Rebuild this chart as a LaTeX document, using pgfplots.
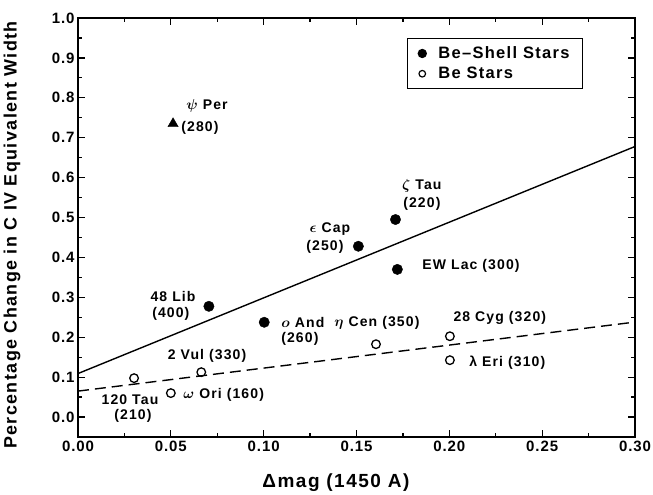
\documentclass[border=0pt]{standalone}
\usepackage{fontspec}
\setmainfont{Liberation Sans}
\newfontfamily\lsfont[LetterSpace=6]{Liberation Sans}
\newfontfamily\lsfontw[LetterSpace=8]{Liberation Sans}
\usepackage{pgfplots}
\pgfplotsset{compat=1.18}
\newcommand\lab{\lsfontw\bfseries\fontsize{14}{16}\selectfont}
\begin{document}
\begin{tikzpicture}
\begin{axis}[
  scale only axis, width=557pt, height=419pt,
  xmin=0, xmax=0.30, ymin=-0.05, ymax=1.0,
  xtick={0,0.05,0.10,0.15,0.20,0.25,0.30},
  minor xtick={0.025,0.075,0.125,0.175,0.225,0.275},
  ytick={0,0.1,0.2,0.3,0.4,0.5,0.6,0.7,0.8,0.9,1.0},
  minor ytick={0.05,0.15,0.25,0.35,0.45,0.55,0.65,0.75,0.85,0.95},
  /pgf/number format/assume math mode=true,
  xticklabel style={/pgf/number format/.cd, fixed, fixed zerofill, precision=2},
  yticklabel style={/pgf/number format/.cd, fixed, fixed zerofill, precision=1},
  scaled x ticks=false, scaled y ticks=false,
  tick label style={font=\lsfont\bfseries\fontsize{15}{17}\selectfont},
  axis line style={line width=1.6pt},
  tick style={line width=1.2pt, black},
  major tick length=7pt, minor tick length=4pt,
  xlabel={\lsfontw\bfseries\fontsize{19}{21}\selectfont Δmag (1450 A)},
  xlabel style={at={(axis description cs:0.463,-0.11)}, anchor=center},
  ylabel={\lsfontw\bfseries\fontsize{17.9}{19}\selectfont Percentage Change in C IV Equivalent Width},
  ylabel style={at={(axis description cs:-0.1185,0.482)}, anchor=center},
  legend style={at={(axis description cs:0.59,0.952)}, anchor=north west,
    draw=black, line width=1.3pt, font=\lsfontw\bfseries\fontsize{16.5}{18}\selectfont,
    inner xsep=11pt, inner ysep=6pt, row sep=3pt},
  legend cell align=left,
  clip=false,
]
% regression lines
\addplot[black, line width=1.4pt, forget plot] coordinates {(0,0.109) (0.30,0.678)};
\addplot[black, line width=1.4pt, dash pattern=on 11pt off 6pt, forget plot] coordinates {(0,0.065) (0.30,0.238)};
% Be-shell stars (filled)
\addplot[only marks, mark=*, mark size=5.2pt, black, forget plot] coordinates {
  (0.0705,0.2775) (0.1003,0.2375) (0.151,0.428) (0.171,0.495) (0.172,0.370)};
% psi Per (triangle)
\addplot[only marks, mark=triangle*, mark size=6pt, black, forget plot] coordinates {(0.0512,0.735)};
% Be stars (open)
\addplot[only marks, mark=o, mark size=4.3pt, line width=1.3pt, black, forget plot] coordinates {
  (0.0302,0.0975) (0.050,0.060) (0.0664,0.1125) (0.1605,0.1825) (0.2003,0.2025) (0.2003,0.1425)};
\addlegendimage{only marks, mark=*, mark size=4pt, black}
\addlegendentry{\hspace{10pt}Be–Shell Stars}
\addlegendimage{only marks, mark=o, mark size=3.3pt, line width=1.2pt, black}
\addlegendentry{\hspace{10pt}Be Stars}
% labels
\node[font=\lab] at (axis cs:0.0695,0.78) {{\boldmath$\psi$} Per};
\node[font=\lab] at (axis cs:0.0657,0.725) {(280)};
\node[font=\lab] at (axis cs:0.1357,0.47) {{\boldmath$\epsilon$} Cap};
\node[font=\lab] at (axis cs:0.133,0.4275) {(250)};
\node[font=\lab] at (axis cs:0.1852,0.58) {{\boldmath$\zeta$} Tau};
\node[font=\lab] at (axis cs:0.1852,0.535) {(220)};
\node[font=\lab, anchor=west] at (axis cs:0.1836,0.38) {EW Lac (300)};
\node[font=\lab] at (axis cs:0.0512,0.3025) {48 Lib};
\node[font=\lab] at (axis cs:0.050,0.2575) {(400)};
\node[font=\lab, anchor=west] at (axis cs:0.1077,0.2375) {{\boldmath$o$} And};
\node[font=\lab] at (axis cs:0.1195,0.195) {(260)};
\node[font=\lab] at (axis cs:0.0695,0.1525) {2 Vul (330)};
\node[font=\lab] at (axis cs:0.028,0.0425) {120 Tau};
\node[font=\lab] at (axis cs:0.0296,0.0025) {(210)};
\node[font=\lab, anchor=west] at (axis cs:0.0549,0.055) {{\boldmath$\omega$} Ori (160)};
\node[font=\lab] at (axis cs:0.161,0.235) {{\boldmath$\eta$} Cen (350)};
\node[font=\lab] at (axis cs:0.2272,0.2475) {28 Cyg (320)};
\node[font=\lab, anchor=west] at (axis cs:0.2089,0.135) {λ Eri (310)};
\end{axis}
\pgfresetboundingbox
\path ([shift={(-78pt,-58pt)}]current axis.south west) rectangle ([shift={(18pt,18pt)}]current axis.north east);
\end{tikzpicture}
\end{document}
